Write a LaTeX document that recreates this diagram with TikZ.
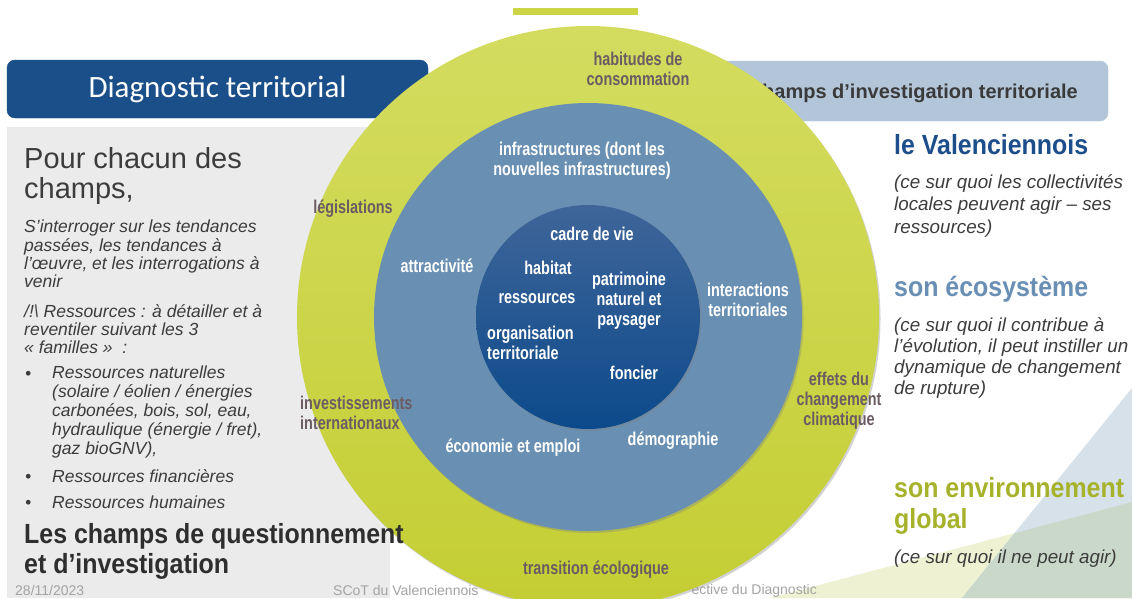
\documentclass[tikz,border=0pt]{standalone}
\usepackage{fontspec}
\setmainfont{Liberation Sans}
\newfontfamily\ringfont{Liberation Sans}[FakeStretch=0.78]
\newfontfamily\headfont{Liberation Sans}[FakeStretch=0.9]
\newfontfamily\titlefont{Carlito}
\usetikzlibrary{shadows}

\definecolor{diagblue}{HTML}{1B4F8A}
\definecolor{champblue}{HTML}{B3C6D9}
\definecolor{panelgrey}{HTML}{EBEBEB}
\definecolor{topbar}{HTML}{CDD546}
\definecolor{paleyellow}{HTML}{EEF2D3}
\definecolor{paleblue}{HTML}{D6E1EA}
\definecolor{palegreen}{HTML}{CAD8C9}
\definecolor{ringtop}{HTML}{D4DC60}
\definecolor{ringbottom}{HTML}{C4CE33}
\definecolor{midblue}{HTML}{6990B3}
\definecolor{coretop}{HTML}{3F6599}
\definecolor{corebottom}{HTML}{0C4A8B}
\definecolor{ringtext}{HTML}{6B5C63}
\definecolor{bodygrey}{HTML}{3C3C3C}
\definecolor{headgrey}{HTML}{2E2E2E}
\definecolor{valblue}{HTML}{1D4E8C}
\definecolor{ecoblue}{HTML}{6A8FB5}
\definecolor{envgreen}{HTML}{A7B22B}
\definecolor{footgrey}{HTML}{A3A3A3}
\definecolor{champtext}{HTML}{3A3A3A}

\tikzset{
	ringlabel/.style={font=\ringfont\bfseries\fontsize{18.5}{20}\selectfont, text=ringtext, align=center, inner sep=0pt},
	corelabel/.style={ringlabel, text=white},
	bodytext/.style={font=\itshape\fontsize{17.5}{18.3}\selectfont, text=bodygrey, align=left, inner sep=0pt},
	bullettext/.style={bodytext, font=\itshape\fontsize{17.5}{19}\selectfont},
	sidetext/.style={font=\itshape\fontsize{18.8}{22.5}\selectfont, text=bodygrey, align=left, inner sep=0pt},
	headline/.style={font=\headfont\bfseries\fontsize{27.7}{30}\selectfont, align=left, inner sep=0pt},
	footmark/.style={font=\fontsize{14}{14}\selectfont, text=footgrey, inner sep=0pt},
	ringshadow/.style={drop shadow={shadow xshift=1.5pt, shadow yshift=-2pt, opacity=0.35}}
}

\begin{document}
\begin{tikzpicture}[x=1pt, y=-1pt]
			\useasboundingbox (0,0) rectangle (1132,598);
			\clip (0,0) rectangle (1132,598);
			\fill[white] (0,0) rectangle (1132,598);
			\fill[panelgrey] (7,127) rectangle (390,598);
			\draw[diagblue, fill=diagblue, rounded corners=8pt] (7,60) rectangle (428,118) node[pos=0.5, text=white, font=\titlefont\fontsize{31}{31}\selectfont] (diagtitle) {Diagnostic territorial};
			\draw[champblue, fill=champblue, rounded corners=8pt] (700,61) rectangle (1108,121);
			\node[anchor=base east, inner sep=0pt, text=champtext, font=\bfseries\fontsize{20}{20}\selectfont] (champtitle) at (1078,98) {Champs d’investigation territoriale};
			\fill[topbar] (513,8) rectangle (638,15);
			\fill[paleyellow] (770,598) -- (1132,502) -- (1132,598) -- cycle;
			\fill[paleblue] (962,598) -- (1132,388) -- (1132,598) -- cycle;
			\begin{scope}
				\clip (770,598) -- (1132,502) -- (1132,598) -- cycle;
				\fill[palegreen] (962,598) -- (1132,388) -- (1132,598) -- cycle;
			\end{scope}
			\node[footmark, anchor=base west] (datenote) at (15,595) {28/11/2023};
			\node[footmark, anchor=base west] (scotnote) at (333,595) {SCoT du Valenciennois};
			\node[footmark, anchor=base east] (diagnote) at (817,594) {ective du Diagnostic};
			
			\coordinate (hub) at (588,317);
			\path[ringshadow, top color=ringtop, bottom color=ringbottom] (hub) circle[radius=291];
			\path[ringshadow, fill=midblue] (hub) circle[radius=214];
			\path[ringshadow, top color=coretop, bottom color=corebottom] (hub) circle[radius=112];
			
			\node[ringlabel, anchor=north] (habitudes) at (638,51.5) {habitudes de\\consommation};
			\node[ringlabel, anchor=base] (legislations) at (353,213) {législations};
			\node[ringlabel, anchor=north west, align=left] (investissements) at (300,395.5) {investissements\\internationaux};
			\node[ringlabel, anchor=north] (climat) at (839,371.5) {effets du\\changement\\climatique};
			\node[ringlabel, anchor=base] (transition) at (596,574) {transition écologique};
			
			\node[corelabel, anchor=north] (infra) at (582,141.5) {infrastructures (dont les\\nouvelles infrastructures)};
			\node[corelabel, anchor=base] (attractivite) at (437,272) {attractivité};
			\node[corelabel, anchor=north] (interactions) at (748,282.5) {interactions\\territoriales};
			\node[corelabel, anchor=base] (economie) at (513,452) {économie et emploi};
			\node[corelabel, anchor=base] (demographie) at (673,445) {démographie};
			
			\node[corelabel, anchor=base] (cadre) at (592,240) {cadre de vie};
			\node[corelabel, anchor=base] (habitat) at (548,274) {habitat};
			\node[corelabel, anchor=base] (ressources) at (537,303) {ressources};
			\node[corelabel, anchor=north] (patrimoine) at (629,271.5) {patrimoine\\naturel et\\paysager};
			\node[corelabel, anchor=north west, align=left] (organisation) at (487,325.5) {organisation\\territoriale};
			\node[corelabel, anchor=base] (foncier) at (634,379) {foncier};
			
			\node[anchor=north west, align=left, inner sep=0pt, text=bodygrey, font=\fontsize{29}{30}\selectfont] (pourchacun) at (24,147) {Pour chacun des\\champs,};
			\node[bodytext, anchor=north west] (interroger) at (24,220) {S’interroger sur les tendances\\passées, les tendances à\\l’œuvre, et les interrogations à\\venir};
			\node[bodytext, anchor=north west] (attention) at (24,304) {/!\textbackslash{} Ressources : à détailler et à\\reventiler suivant les 3\\« familles »~ :};
			\node[bullettext, anchor=north west] (naturelles) at (52,366) {Ressources naturelles\\(solaire / éolien / énergies\\carbonées, bois, sol, eau,\\hydraulique (énergie / fret),\\gaz bioGNV),};
			\node[bullettext, anchor=base west] (financieres) at (52,482) {Ressources financières};
			\node[bullettext, anchor=base west] (humaines) at (52,508) {Ressources humaines};
			\foreach \y in {379,482,508}
				\node[bullettext, anchor=base west] (bullet\y) at (25,\y) {•};
			\node[headline, text=headgrey, anchor=north west] (questionnement) at (24,522.8) {Les champs de questionnement\\et d’investigation};
			
			\node[headline, text=valblue, anchor=base west] (valenciennois) at (894,154) {le Valenciennois};
			\node[sidetext, anchor=north west] (localagir) at (894,174.3) {(ce sur quoi les collectivités\\locales peuvent agir – ses\\ressources)};
			\node[headline, text=ecoblue, anchor=base west] (ecosysteme) at (894,296) {son écosystème};
			\node[sidetext, anchor=north west, font=\itshape\fontsize{18.8}{21}\selectfont] (contribue) at (894,317) {(ce sur quoi il contribue à\\l’évolution, il peut instiller un\\dynamique de changement\\de rupture)};
			\node[headline, text=envgreen, anchor=north west, font=\headfont\bfseries\fontsize{27.7}{31}\selectfont] (environnement) at (894,476.8) {son environnement\\global};
			\node[sidetext, anchor=base west] (nepeut) at (894,563) {(ce sur quoi il ne peut agir)};
\end{tikzpicture}
\end{document}
